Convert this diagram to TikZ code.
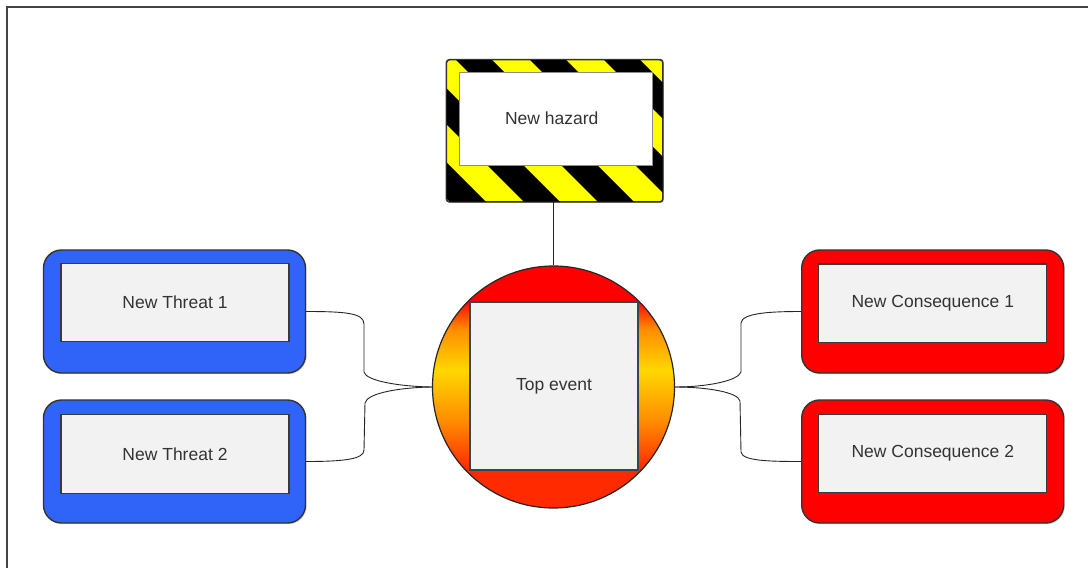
\documentclass[tikz,border=0pt]{standalone}
\usepackage{fontspec}
\setmainfont{Liberation Sans}
\usetikzlibrary{shadows}
\definecolor{frameg}{HTML}{444444}
\definecolor{txtg}{HTML}{333333}
\definecolor{innerfill}{HTML}{F2F2F2}
\definecolor{innerline}{HTML}{3A3A3A}
\definecolor{threatblue}{HTML}{3063F7}
\definecolor{consred}{HTML}{FF0000}
\definecolor{hazyellow}{HTML}{FFFF00}
\definecolor{sqline}{HTML}{37474F}
\definecolor{cRedB}{HTML}{FF2A00}
\definecolor{cOrange}{HTML}{FF8C00}
\definecolor{cYellow}{HTML}{FFD700}
\pgfdeclareverticalshading{topevshade}{100bp}{color(0bp)=(cRedB); color(33bp)=(cRedB); color(43bp)=(cOrange); color(53.5bp)=(cYellow); color(62bp)=(cOrange); color(68bp)=(red); color(100bp)=(red)}
\tikzset{
  outerbox/.style={draw=txtg, line width=1.4, rounded corners=18, minimum width=262, minimum height=123, inner sep=0,
    drop shadow={opacity=0.3, shadow xshift=1.2pt, shadow yshift=-1.2pt}},
  threatbox/.style={outerbox, fill=threatblue},
  consbox/.style={outerbox, fill=consred},
  innerbox/.style={draw=innerline, line width=1.3, fill=innerfill, minimum width=228, minimum height=78.5, inner sep=0,
    text=txtg, font=\fontsize{17.5}{21}\selectfont},
  conn/.style={draw=black!85, line width=0.9},
}
\begin{document}
\begin{tikzpicture}[x=1pt,y=-1pt]
\useasboundingbox (0,0) rectangle (1088,568);
% frame
\draw[frameg, line width=1.5] (7,568) -- (7,7) -- (1088,7);

% hazard
\node[fill=hazyellow, draw=txtg, line width=1, rounded corners=3, minimum width=216, minimum height=141.7, inner sep=0,
  drop shadow={opacity=0.3, shadow xshift=1.2pt, shadow yshift=-1.2pt}] (haz) at (554.7,130.8) {};
\begin{scope}
  \clip[rounded corners=3] (haz.south west) rectangle (haz.north east);
  \foreach \k in {-4,...,3} {
    \fill[black] ({452+74*\k},56) -- ++(36,0) -- ++(150,150) -- ++(-36,0) -- cycle;
  }
\end{scope}
\draw[txtg, line width=1, rounded corners=3] (haz.south west) rectangle (haz.north east);
\node[draw=black!45, line width=0.8, fill=white, minimum width=192.7, minimum height=92.7, inner sep=0,
  text=txtg, font=\fontsize{17.5}{21}\selectfont] (hazin) at (555.7,118.7) {\hspace*{-8pt}New hazard};

% top event
\node[circle, shading=topevshade, draw=black!85, line width=1.2, minimum size=242, inner sep=0] (te) at (553.5,387) {};
\node[draw=sqline, line width=2, fill=innerfill, minimum size=168, inner sep=0, text=txtg,
  font=\fontsize{17.5}{21}\selectfont] (sq) at (554,386) {Top event};

% threats
\node[threatbox] (t1) at (174.5,311.5) {};
\node[innerbox] (t1in) at (175,302.5) {New Threat 1};
\node[threatbox] (t2) at (174.5,461.5) {};
\node[innerbox] (t2in) at (175,454) {New Threat 2};

% consequences
\node[consbox] (c1) at (932.7,311.5) {};
\node[innerbox] (c1in) at (932.8,303.3) {New Consequence 1};
\node[consbox] (c2) at (932.7,461.5) {};
\node[innerbox] (c2in) at (932.8,453.5) {New Consequence 2};

% connectors
\draw[conn] (haz.south -| te.north) -- (te.north);
\draw[conn] (t1.east) .. controls (345,311.5) and (364,313) .. (364,324) -- (364,372)
  .. controls (366,381) and (400,386.5) .. (te.west);
\draw[conn] (t2.east) .. controls (345,461.5) and (364,459) .. (364,450) -- (365,403)
  .. controls (367,393) and (400,387.5) .. (te.west);
\draw[conn] (te.east) .. controls (706,387) and (738,381) .. (741,372) -- (741,323)
  .. controls (742,313) and (770,311.5) .. (c1.west);
\draw[conn] (te.east) .. controls (706,387) and (738,392) .. (740,401) -- (741,452)
  .. controls (742,461) and (770,461.5) .. (c2.west);
\end{tikzpicture}
\end{document}
